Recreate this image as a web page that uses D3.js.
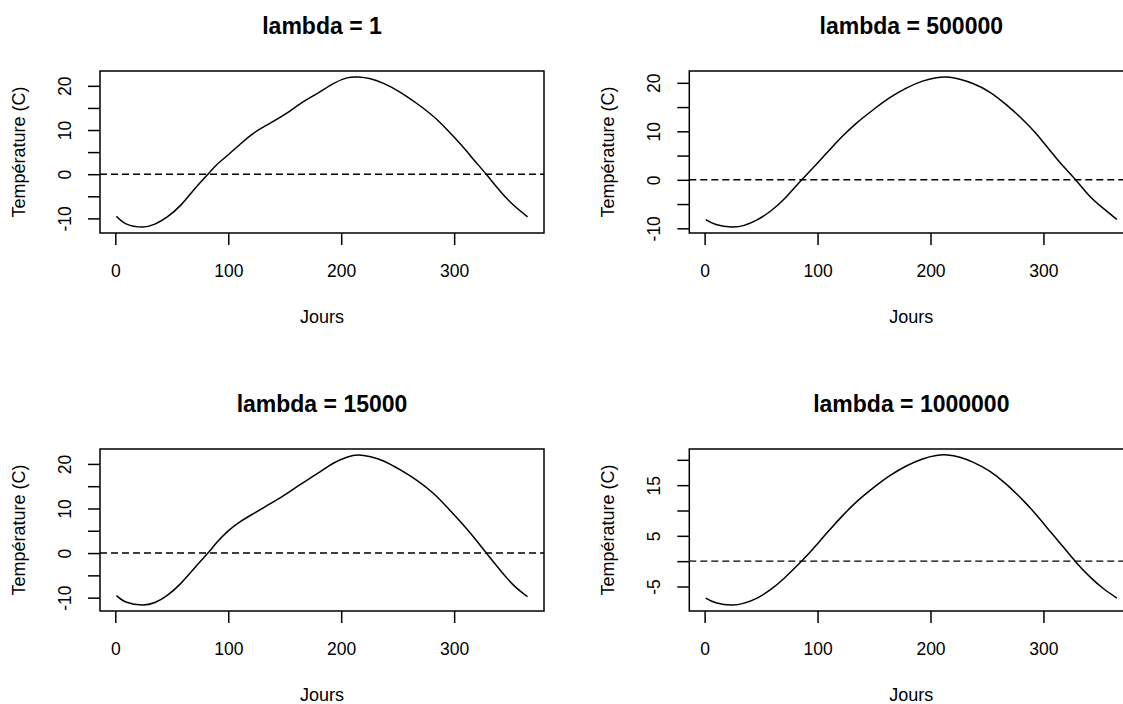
<!DOCTYPE html>
<html>
<head>
<meta charset="utf-8">
<script src="https://cdn.jsdelivr.net/npm/d3@7"></script>
<style>
  html, body { margin: 0; padding: 0; background: #fff; }
  svg { display: block; overflow: hidden; }
  text { font-family: "Liberation Sans", Arial, sans-serif; fill: #000; }
</style>
</head>
<body>
<svg id="chart" width="1123" height="704"></svg>
<script>
// Days of the year at which the smoothed temperature curves are sampled
const days = [1, 10, 24, 35, 46, 58, 70, 82, 90, 100, 111, 122, 134, 149, 164, 179,
              193, 205, 215, 226, 238, 252, 267, 282, 294, 306, 317, 329, 341, 353, 365];

// Smoothed daily temperature (°C) for each smoothing parameter
const tempLambda1 = [-9.5, -11.3, -11.95, -11.3, -9.65, -7.0, -3.4, 0.0, 2.2, 4.4, 6.9, 9.2,
                     11.1, 13.35, 16.0, 18.3, 20.5, 21.8, 22.0, 21.6, 20.5, 18.6, 16.0, 13.0,
                     10.0, 6.7, 3.4, -0.2, -3.9, -7.1, -9.65];
const tempLambda500000 = [-8.2, -9.2, -9.73, -9.4, -8.32, -6.53, -4.07, -1.0, 0.99, 3.47, 6.27,
                          8.97, 11.6, 14.4, 16.93, 18.95, 20.35, 21.05, 21.2, 20.73, 19.8, 18.15,
                          15.5, 12.35, 9.4, 6.0, 2.95, -0.15, -3.4, -5.9, -8.17];
const tempLambda15000 = [-9.55, -11.05, -11.65, -11.1, -9.5, -6.8, -3.4, 0.0, 2.4, 4.97, 7.1,
                         8.8, 10.6, 12.9, 15.4, 17.85, 20.15, 21.5, 22.0, 21.6, 20.6, 18.7, 16.3,
                         13.3, 10.2, 6.9, 3.66, -0.15, -3.9, -7.3, -9.8];
const tempLambda1000000 = [-7.28, -8.2, -8.65, -8.28, -7.33, -5.68, -3.46, -0.86, 0.99, 3.46,
                           6.26, 8.94, 11.6, 14.4, 16.87, 18.83, 20.17, 20.85, 20.95, 20.5, 19.5,
                           17.8, 15.2, 12.0, 9.06, 5.85, 2.93, -0.24, -3.05, -5.4, -7.28];

const panelTitles = ["lambda = 1", "lambda = 500000", "lambda = 15000", "lambda = 1000000"];
const xLabel = "Jours";
const yLabel = "Température (C)";

const xTickValues = [0, 100, 200, 300];
const yTicksWide = [-10, -5, 0, 5, 10, 15, 20];
const yLabelsWide = [-10, 0, 10, 20];
const yTicksNarrow = [-5, 0, 5, 10, 15, 20];
const yLabelsNarrow = [-5, 5, 15];
const referenceLevel = 0;

// Panel boxes (plot regions) in a 2 x 2 grid
const panels = [
  { title: panelTitles[0], temps: tempLambda1,       ticks: yTicksWide,   labels: yLabelsWide,   x: 100,   y: 71 },
  { title: panelTitles[1], temps: tempLambda500000,  ticks: yTicksWide,   labels: yLabelsWide,   x: 689.3, y: 71 },
  { title: panelTitles[2], temps: tempLambda15000,   ticks: yTicksWide,   labels: yLabelsWide,   x: 100,   y: 449 },
  { title: panelTitles[3], temps: tempLambda1000000, ticks: yTicksNarrow, labels: yLabelsNarrow, x: 689.3, y: 449 }
];
const boxW = 444, boxH = 162;

// R-style axis range: data extent padded by 4% on each side
function padded(ext) {
  const d = (ext[1] - ext[0]) * 0.04;
  return [ext[0] - d, ext[1] + d];
}

const svg = d3.select("#chart");

panels.forEach(p => {
  const g = svg.append("g").attr("transform", `translate(${p.x},${p.y})`);
  const x = d3.scaleLinear().domain(padded(d3.extent(days))).range([0, boxW]);
  const y = d3.scaleLinear().domain(padded(d3.extent(p.temps))).range([boxH, 0]);

  const clipId = "clip-" + p.title.replace(/\W/g, "");
  g.append("clipPath").attr("id", clipId)
    .append("rect").attr("width", boxW).attr("height", boxH);

  // horizontal reference line at 0 °C
  g.append("line")
    .attr("clip-path", `url(#${clipId})`)
    .attr("x1", 0).attr("x2", boxW)
    .attr("y1", y(referenceLevel)).attr("y2", y(referenceLevel))
    .attr("stroke", "#000").attr("stroke-width", 1.4)
    .attr("stroke-dasharray", "7,4");

  // smoothed temperature curve
  const line = d3.line()
    .x((d, i) => x(days[i]))
    .y(d => y(d))
    .curve(d3.curveNatural);
  g.append("path")
    .datum(p.temps)
    .attr("d", line)
    .attr("fill", "none")
    .attr("stroke", "#000")
    .attr("stroke-width", 1.5);

  // x axis
  const xAxis = g.append("g")
    .attr("transform", `translate(0,${boxH})`)
    .call(d3.axisBottom(x).tickValues(xTickValues).tickSize(12).tickFormat(d => String(d)));
  xAxis.select(".domain").remove();
  xAxis.selectAll(".tick line").attr("stroke", "#000").attr("stroke-width", 1.5);
  xAxis.selectAll(".tick text")
    .attr("y", 44).attr("dy", 0)
    .style("font-size", "17.5px").style("font-family", '"Liberation Sans", Arial, sans-serif')
    .attr("fill", "#000");

  // y axis: every tick is drawn, only non-overlapping labels are printed
  const yAxis = g.append("g")
    .call(d3.axisLeft(y).tickValues(p.ticks).tickSize(12)
      .tickFormat(d => p.labels.includes(d) ? String(d) : ""));
  yAxis.select(".domain").remove();
  yAxis.selectAll(".tick line").attr("stroke", "#000").attr("stroke-width", 1.5);
  yAxis.selectAll(".tick text")
    .attr("x", 0).attr("dy", 0)
    .attr("transform", "translate(-29,0) rotate(-90)")
    .attr("text-anchor", "middle")
    .style("font-size", "17.5px").style("font-family", '"Liberation Sans", Arial, sans-serif')
    .attr("fill", "#000");

  // plot box
  g.append("rect")
    .attr("width", boxW).attr("height", boxH)
    .attr("fill", "none").attr("stroke", "#000").attr("stroke-width", 1.5);

  // titles
  g.append("text")
    .attr("x", boxW / 2).attr("y", -37)
    .attr("text-anchor", "middle")
    .style("font-size", "23px").style("font-weight", "bold")
    .text(p.title);

  g.append("text")
    .attr("x", boxW / 2).attr("y", boxH + 90)
    .attr("text-anchor", "middle")
    .style("font-size", "18px")
    .text(xLabel);

  g.append("text")
    .attr("transform", `translate(-75,${boxH / 2}) rotate(-90)`)
    .attr("text-anchor", "middle")
    .style("font-size", "18px")
    .text(yLabel);
});
</script>
</body>
</html>
